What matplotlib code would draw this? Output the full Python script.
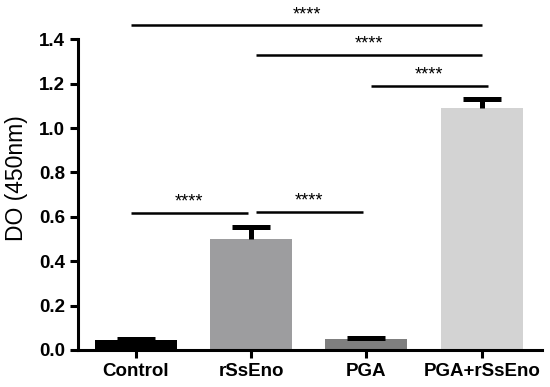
import matplotlib.pyplot as plt

# dados
grupos = ['Control', 'rSsEno', 'PGA', 'PGA+rSsEno']
medias = [0.045, 0.50, 0.05, 1.09]
erros = [0.005, 0.055, 0.003, 0.04]
cores = ['#000000', '#9d9d9f', '#7f7f7f', '#d3d3d3']

# comparações (grupo a, grupo b, altura da linha)
comp_a = [0, 1, 0, 1, 2]
comp_b = [1, 2, 3, 3, 3]
comp_y = [0.617, 0.622, 1.464, 1.33, 1.19]
comp_txt = ['****'] * 5

plt.rcParams['font.family'] = ['Liberation Sans', 'DejaVu Sans']

fig = plt.figure(figsize=(5.5, 3.87), dpi=100)
ax = fig.add_axes([0.142, 0.096, 0.843, 0.888])

x = range(len(grupos))
ax.bar(x, medias, width=0.71, color=cores, zorder=2)
linha, caps, barras = ax.errorbar(x, medias, yerr=[[0] * 4, erros], fmt='none',
                                  ecolor='black', elinewidth=3.6, capsize=13.7,
                                  capthick=3.6, zorder=3)
caps[0].set_visible(False)  # só a barra de erro superior

for a, b, y, t in zip(comp_a, comp_b, comp_y, comp_txt):
    x0 = a - 0.04 if a == 0 else a + 0.04
    x1 = b - 0.03 if b - a == 1 and b < 3 else b + (0.05 if a == 2 else 0)
    ax.plot([x0, x1], [y, y], color='black', lw=1.8, solid_capstyle='butt')
    ax.text((x0 + x1) / 2, y + 0.01, t, ha='center', va='bottom', fontsize=13)

ax.set_xlim(-0.5, 3.52)
ax.set_ylim(0, 1.55)
ax.set_yticks([0.0, 0.2, 0.4, 0.6, 0.8, 1.0, 1.2, 1.4])
ax.set_yticklabels(['0.0', '0.2', '0.4', '0.6', '0.8', '1.0', '1.2', '1.4'],
                   fontsize=13.5, fontweight='bold')
ax.set_xticks(list(x))
ax.set_xticklabels(grupos, fontsize=13.5, fontweight='bold')
ax.set_ylabel('DO (450nm)', fontsize=16.5, labelpad=8)

ax.spines['top'].set_visible(False)
ax.spines['right'].set_visible(False)
ax.spines['left'].set_bounds(0, 1.4)
ax.spines['left'].set_linewidth(2.2)
ax.spines['bottom'].set_linewidth(2.2)
ax.tick_params(width=2.2, length=6)

plt.savefig('out.png')
